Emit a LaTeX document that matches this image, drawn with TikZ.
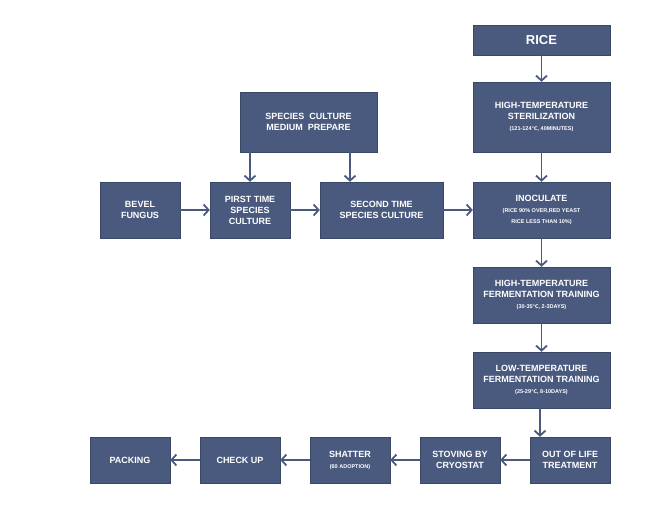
\documentclass[tikz,border=0pt]{standalone}
\usepackage{fontspec}
\setmainfont{Liberation Sans}
\newfontfamily\djv{DejaVu Sans}
\usetikzlibrary{arrows.meta}
\definecolor{bx}{HTML}{4A5A7E}
\newcommand\smf{\bfseries\fontsize{5.5}{8}\selectfont}
\newcommand\degc{{\djv\fontsize{5}{8}\selectfont ℃}}
\begin{document}
\begin{tikzpicture}[x=1pt,y=-1pt,
  box/.style={fill=bx,draw=bx!80!black,line width=0.4pt,text=white,font=\bfseries\fontsize{9}{11}\selectfont,align=center,inner sep=0pt},
  ar/.style={draw=bx,line width=1.8pt,-{Straight Barb[length=5pt,width=11pt,line width=1.8pt]}}]
\useasboundingbox (0,0) rectangle (660,505);
\newcommand\bxx[6]{\node[box,minimum width=#4-#2,minimum height=#5-#3] (#1) at ({(#2+#4)/2},{(#3+#5)/2}) {#6};}
\bxx{rice}{473}{25}{610}{55}{\fontsize{13}{15}\selectfont RICE}
\bxx{hts}{473}{82}{610}{152}{HIGH-TEMPERATURE\\STERILIZATION\\{\smf (121-124\degc, 40MINUTES)}}
\bxx{inoc}{473}{182}{610}{238}{INOCULATE\\{\smf (RICE 90\% OVER,RED YEAST}\\{\smf RICE LESS THAN 10\%)}}
\bxx{htf}{473}{267}{610}{323}{HIGH-TEMPERATURE\\FERMENTATION TRAINING\\{\smf (30-35\degc, 2-3DAYS)}}
\bxx{ltf}{473}{352}{610}{408}{LOW-TEMPERATURE\\FERMENTATION TRAINING\\{\smf (25-29\degc, 8-10DAYS)}}
\bxx{out}{530}{437}{610}{483}{OUT OF LIFE\\TREATMENT}
\bxx{stov}{420}{437}{500}{483}{STOVING BY\\CRYOSTAT}
\bxx{shat}{310}{437}{390}{483}{SHATTER\\{\smf (60 ADOPTION)}}
\bxx{chk}{200}{437}{280}{483}{CHECK UP}
\bxx{pack}{90}{437}{170}{483}{PACKING}
\bxx{bev}{100}{182}{180}{238}{BEVEL\\FUNGUS}
\bxx{pir}{210}{182}{290}{238}{PIRST TIME\\SPECIES\\CULTURE}
\bxx{sec}{320}{182}{443}{238}{SECOND TIME\\SPECIES CULTURE}
\bxx{med}{240}{92}{377}{152}{SPECIES\ \ CULTURE\\MEDIUM\ \ PREPARE}
\coordinate (c1) at (540,0);
\coordinate (c2) at (350,0);
\draw[ar] (rice) -- (hts);
\draw[ar] (hts) -- (inoc);
\draw[ar] (inoc) -- (htf);
\draw[ar] (htf) -- (ltf);
\draw[ar] (ltf.south -| c1) -- (out.north -| c1);
\draw[ar] (out) -- (stov);
\draw[ar] (stov) -- (shat);
\draw[ar] (shat) -- (chk);
\draw[ar] (chk) -- (pack);
\draw[ar] (bev) -- (pir);
\draw[ar] (pir) -- (sec);
\draw[ar] (sec) -- (inoc);
\draw[ar] (med.south -| pir) -- (pir);
\draw[ar] (med.south -| c2) -- (sec.north -| c2);
\end{tikzpicture}
\end{document}
